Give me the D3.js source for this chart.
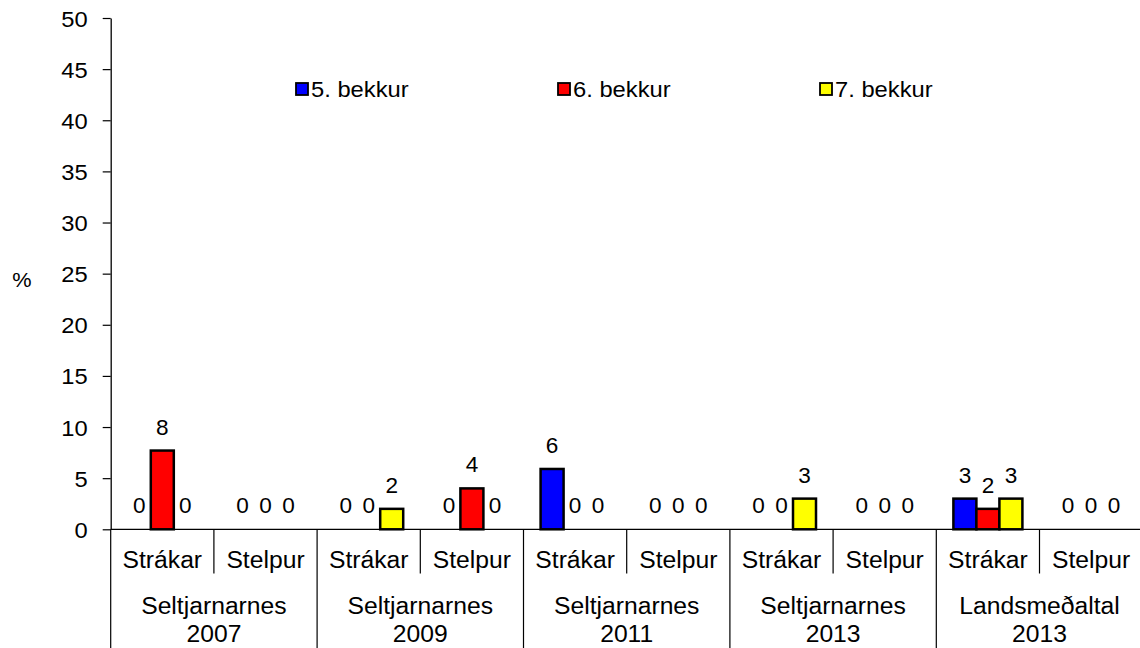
<!DOCTYPE html>
<html>
<head>
<meta charset="utf-8">
<script src="https://cdn.jsdelivr.net/npm/d3@7/dist/d3.min.js"></script>
<style>
  html, body { margin: 0; padding: 0; background: #fff; }
  svg { display: block; }
  text { font-family: "Liberation Sans", Arial, sans-serif; fill: #000; }
</style>
</head>
<body>
<svg id="chart" width="1140" height="648"></svg>
<script>
// ---- data ----
const groups = ["Seltjarnarnes|2007", "Seltjarnarnes|2009", "Seltjarnarnes|2011", "Seltjarnarnes|2013", "Landsmeðaltal|2013"];
const subgroups = ["Strákar", "Stelpur"];
const seriesNames = ["5. bekkur", "6. bekkur", "7. bekkur"];
const seriesColors = ["#0000FF", "#FF0000", "#FFFF00"];
// values in order: group1 Strákar, group1 Stelpur, group2 Strákar, ...
const bekkur5 = [0, 0, 0, 0, 5.9, 0, 0, 0, 3.0, 0];
const bekkur6 = [7.7, 0, 0, 4.0, 0, 0, 0, 0, 2.0, 0];
const bekkur7 = [0, 0, 2.0, 0, 0, 0, 3.0, 0, 3.0, 0];
const yTicks = [0, 5, 10, 15, 20, 25, 30, 35, 40, 45, 50];

const seriesValues = [bekkur5, bekkur6, bekkur7];
const cats = [];
groups.forEach((g, gi) => subgroups.forEach((s, si) => cats.push({ id: gi + "_" + si, group: gi, sub: s })));

// ---- layout ----
const W = 1140, H = 648;
const left = 110.7, right = 1142.7, y0px = 529.3, y50px = 18;
const SX = 1.06; // horizontal text stretch

const svg = d3.select("#chart");
const x0 = d3.scaleBand().domain(cats.map(d => d.id)).range([left, right]).padding(0);
const x1 = d3.scaleBand().domain(d3.range(seriesNames.length)).range([0, x0.bandwidth()])
  .paddingInner(0).paddingOuter(0.743);
const y = d3.scaleLinear().domain([0, 50]).range([y0px, y50px]);

function txt(sel, x, yy, str, size, anchor) {
  return sel.append("text")
    .attr("transform", `translate(${x},${yy}) scale(${SX},1)`)
    .attr("text-anchor", anchor || "middle")
    .style("font-size", size + "px")
    .text(str);
}

// y axis
const yAxis = d3.axisLeft(y).tickValues(yTicks).tickSize(8).tickSizeOuter(0).tickPadding(0);
const gy = svg.append("g").attr("transform", `translate(${left},0)`).call(yAxis);
gy.select(".domain").attr("stroke", "#000").attr("stroke-width", 1.3);
gy.selectAll(".tick line").attr("stroke", "#000").attr("stroke-width", 1.2);
gy.selectAll(".tick text")
  .attr("x", 0).attr("dy", "0.36em")
  .attr("transform", `translate(-23,0) scale(${SX},1)`)
  .style("font-size", "22.4px")
  .style("font-family", '"Liberation Sans", Arial, sans-serif')
  .attr("fill", "#000");

// "%" label
txt(svg, 22, 287, "%", 20.5, "middle");

// x axis baseline
svg.append("line")
  .attr("x1", left).attr("x2", W).attr("y1", y(0)).attr("y2", y(0))
  .attr("stroke", "#000").attr("stroke-width", 1.3);

// separators
const bounds = cats.map((d, i) => ({ x: x0(d.id), major: i % 2 === 0 }));
bounds.push({ x: right, major: true });
svg.append("g").selectAll("line").data(bounds).join("line")
  .attr("x1", d => d.x).attr("x2", d => d.x)
  .attr("y1", y(0)).attr("y2", d => d.major ? H : 573.5)
  .attr("stroke", "#000").attr("stroke-width", 1.2);

// bars
const barG = svg.append("g");
cats.forEach((c, ci) => {
  seriesValues.forEach((vals, si) => {
    const v = vals[ci];
    const bx = x0(c.id) + x1(si);
    if (v > 0) {
      barG.append("rect")
        .attr("x", bx).attr("width", x1.bandwidth())
        .attr("y", y(v)).attr("height", y(0) - y(v))
        .attr("fill", seriesColors[si])
        .attr("stroke", "#000").attr("stroke-width", 2.5);
    }
  });
});
// value labels
cats.forEach((c, ci) => {
  seriesValues.forEach((vals, si) => {
    const v = vals[ci];
    const cx = x0(c.id) + x1(si) + x1.bandwidth() / 2;
    txt(barG, cx, y(v) - 16, String(Math.round(v)), 21.3, "middle");
  });
});

// category labels
cats.forEach(c => {
  txt(svg, x0(c.id) + x0.bandwidth() / 2, 567.5, c.sub, 23.3, "middle");
});
groups.forEach((g, gi) => {
  const parts = g.split("|");
  const cx = x0(cats[gi * 2].id) + x0.bandwidth();
  txt(svg, cx, 613.5, parts[0], 23.3, "middle");
  txt(svg, cx, 641.5, parts[1], 23.3, "middle");
});

// legend
const legX = [296, 558, 820];
const legY = 89;
seriesNames.forEach((n, i) => {
  svg.append("rect")
    .attr("x", legX[i]).attr("y", legY - 6).attr("width", 12).attr("height", 12)
    .attr("fill", seriesColors[i]).attr("stroke", "#000").attr("stroke-width", 1.8);
  txt(svg, legX[i] + 15, legY + 8, n, 22.4, "start");
});
</script>
</body>
</html>
